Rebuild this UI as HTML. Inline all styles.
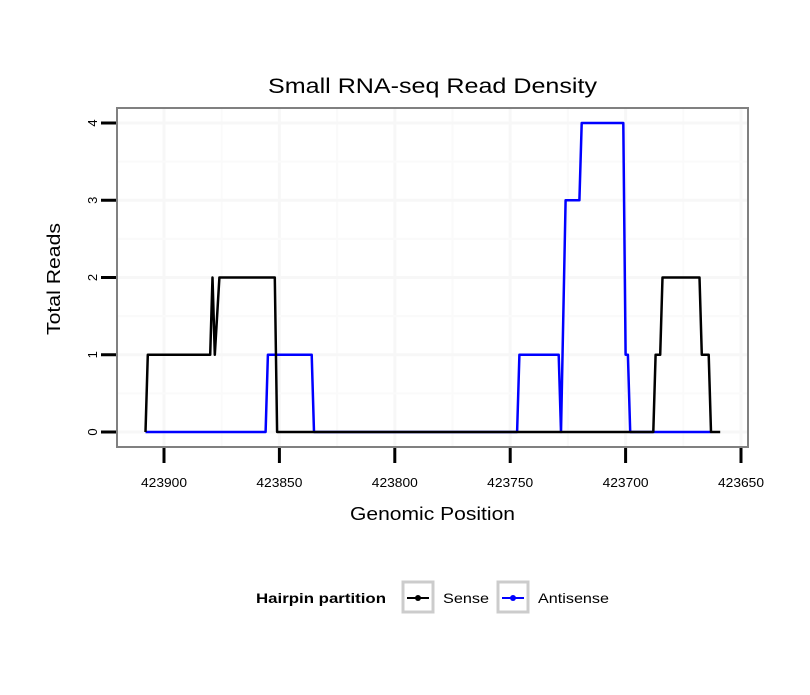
<!DOCTYPE html>
<html><head><meta charset="utf-8"><style>
body{margin:0;background:#fff;}
svg text{font-family:"Liberation Sans",sans-serif;}
</style></head><body>
<svg id="chart" width="810" height="690" xmlns="http://www.w3.org/2000/svg">
<rect width="810" height="690" fill="#fff"/>
<g id="grid"></g>
<g id="series"></g>
<rect x="117" y="108" width="631" height="339" fill="none" stroke="#808080" stroke-width="2"/>
<g id="axes"></g>
<text x="268" y="93" font-size="21" textLength="329" lengthAdjust="spacingAndGlyphs">Small RNA-seq Read Density</text>
<text x="350" y="520" font-size="18" textLength="165" lengthAdjust="spacingAndGlyphs">Genomic Position</text>
<text transform="translate(60,335) rotate(-90)" font-size="18" textLength="112" lengthAdjust="spacingAndGlyphs">Total Reads</text>
<g>
<text x="256" y="603" font-size="14" font-weight="bold" textLength="130" lengthAdjust="spacingAndGlyphs">Hairpin partition</text>
<g>
<rect x="403" y="582" width="30" height="30" fill="#fff" stroke="#ccc" stroke-width="3"/>
<line x1="407" y1="598" x2="429" y2="598" stroke="#000" stroke-width="2"/>
<circle cx="418" cy="598" r="3" fill="#000"/>
<text x="443" y="603" font-size="14" textLength="46" lengthAdjust="spacingAndGlyphs">Sense</text>
</g>
<g>
<rect x="498" y="582" width="30" height="30" fill="#fff" stroke="#ccc" stroke-width="3"/>
<line x1="502" y1="598" x2="524" y2="598" stroke="#00f" stroke-width="2"/>
<circle cx="513" cy="598" r="3" fill="#00f"/>
<text x="538" y="603" font-size="14" textLength="71" lengthAdjust="spacingAndGlyphs">Antisense</text>
</g>
</g>
</svg>
<script>
const senseX=[423908,423907,423880,423879,423878,423876,423852,423851,423688,423687,423685,423684,423668,423667,423664,423663,423659];
const senseY=[0,1,1,2,1,2,2,0,0,1,1,2,2,1,1,0,0];
const antiX=[423908,423856,423855,423836,423835,423747,423746,423729,423728,423726,423720,423719,423701,423700,423699,423698,423663];
const antiY=[0,0,1,1,0,0,1,1,0,3,3,4,4,1,1,0,0];
const xTicks=[423900,423850,423800,423750,423700,423650];
const xTickLabels=["423900","423850","423800","423750","423700","423650"];
const yTicks=[0,1,2,3,4];

const NS="http://www.w3.org/2000/svg";
function sx(v){return 164+(423900-v)*(577/250);}
function sy(v){return 432-v*77.25;}
function mk(tag,attrs,parent){const e=document.createElementNS(NS,tag);for(const k in attrs)e.setAttribute(k,attrs[k]);parent.appendChild(e);return e;}
const grid=document.getElementById('grid'),axes=document.getElementById('axes'),series=document.getElementById('series');
for(let v=423925;v>=423625;v-=25){const x=sx(v);if(x<118||x>747)continue;
  const l=mk('line',{x1:x,x2:x,y1:109,y2:446,stroke:(v%50===0)?'#f7f7f7':'#fafafa','stroke-width':(v%50===0)?3:2},grid);
  
  }
for(let v=-0.5;v<=4.5;v+=0.5){const y=sy(v);if(y<109||y>446)continue;
  const l=mk('line',{x1:118,x2:747,y1:y,y2:y,stroke:(v%1===0)?'#f7f7f7':'#fafafa','stroke-width':(v%1===0)?3:2},grid);
  
  }
function path(xs,ys,color,name){let d='';xs.forEach((x,i)=>{d+=(i?'L':'M')+sx(x).toFixed(1)+' '+sy(ys[i]).toFixed(1);});
  const p=mk('path',{d:d,fill:'none',stroke:color,'stroke-width':2.5,'stroke-linejoin':'round'},series);
  
  }
path(antiX,antiY,'#0000ff','antisense-line');
path(senseX,senseY,'#000000','sense-line');
xTicks.forEach((v,i)=>{const x=sx(v);
  const t=mk('line',{x1:x,x2:x,y1:448,y2:463,stroke:'#000','stroke-width':3},axes);
  
  
  const tx=mk('text',{x:x-23,y:487,'font-size':13,textLength:46,lengthAdjust:'spacingAndGlyphs'},axes);tx.textContent=xTickLabels[i];
  
  });
yTicks.forEach(v=>{const y=sy(v);
  const t=mk('line',{x1:101,x2:116,y1:y,y2:y,stroke:'#000','stroke-width':3},axes);
  
  
  const tx=mk('text',{transform:`translate(97,${y}) rotate(-90)`,'font-size':13,'text-anchor':'middle'},axes);tx.textContent=String(v);
  
  });
</script>
</body></html>
